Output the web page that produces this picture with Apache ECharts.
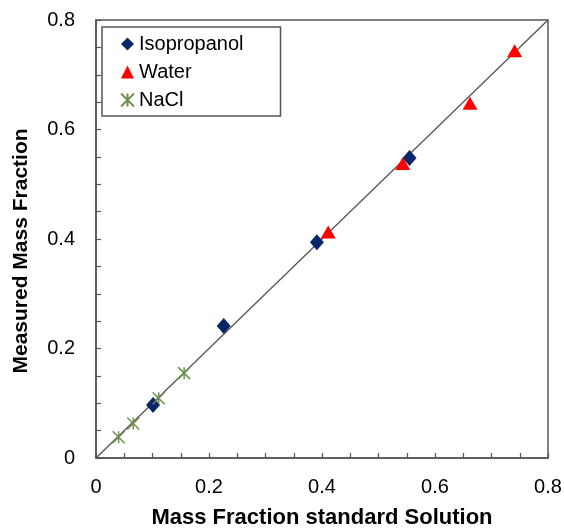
<!DOCTYPE html>
<html>
<head>
<meta charset="utf-8">
<script src="https://cdn.jsdelivr.net/npm/echarts@6/dist/echarts.min.js"></script>
<style>
  html, body { margin: 0; padding: 0; background: #ffffff; }
  #chart { width: 564px; height: 529px; }
</style>
</head>
<body>
<div id="chart"></div>
<script>
// Measured vs. standard mass fractions for three calibration sets
const isopropanolStd = [0.101, 0.226, 0.391, 0.555];
const isopropanolMeas = [0.097, 0.241, 0.394, 0.548];

const waterStd = [0.411, 0.543, 0.662, 0.741];
const waterMeas = [0.413, 0.538, 0.648, 0.744];

const naclStd = [0.040, 0.066, 0.111, 0.156];
const naclMeas = [0.038, 0.063, 0.109, 0.155];

// 1:1 reference line
const parityLine = [[0, 0], [0.8, 0.8]];

const axisTickLabels = ['0', '0.2', '0.4', '0.6', '0.8'];

const FONT = '"Liberation Sans", Arial, sans-serif';

function pairs(xs, ys) {
  return xs.map((x, i) => [x, ys[i]]);
}

const chart = echarts.init(document.getElementById('chart'), null, { renderer: 'canvas' });

const axisCommon = {
  type: 'value',
  min: 0,
  max: 0.8,
  interval: 0.2,
  axisLine: { show: true, lineStyle: { color: '#555555', width: 1.5 } },
  axisTick: { show: true, inside: true, length: 5, lineStyle: { color: '#555555', width: 1.2 } },
  minorTick: { show: true, splitNumber: 4, length: 5, lineStyle: { color: '#555555', width: 1.2 } },
  splitLine: { show: false },
  axisLabel: {
    color: '#000000',
    fontFamily: FONT,
    fontSize: 20,
    formatter: function (v) {
      const idx = Math.round(v / 0.2);
      return axisTickLabels[idx] !== undefined ? axisTickLabels[idx] : '';
    }
  },
  nameLocation: 'middle'
};

const option = {
  backgroundColor: '#ffffff',
  animation: false,
  grid: {
    left: 96,
    right: 16,
    top: 20,
    bottom: 71,
    outerBoundsMode: 'none',
    containLabel: false,
    show: true,
    borderColor: '#555555',
    borderWidth: 1.5,
    backgroundColor: 'transparent'
  },
  legend: {
    orient: 'vertical',
    left: 102,
    top: 27,
    padding: [7, 37, 6, 18],
    itemGap: 8,
    itemWidth: 13,
    itemHeight: 13,
    borderColor: '#555555',
    borderWidth: 1.5,
    backgroundColor: '#ffffff',
    textStyle: { color: '#000000', fontFamily: FONT, fontSize: 20, lineHeight: 20 },
    data: ['Isopropanol', 'Water', 'NaCl']
  },
  xAxis: Object.assign({}, axisCommon, {
    name: 'Mass Fraction standard Solution',
    nameGap: 49,
    nameTextStyle: { color: '#000000', fontFamily: FONT, fontSize: 22, fontWeight: 'bold' },
    axisLabel: Object.assign({}, axisCommon.axisLabel, { margin: 19 })
  }),
  yAxis: Object.assign({}, axisCommon, {
    name: 'Measured Mass Fraction',
    nameGap: 64,
    nameTextStyle: {
      color: '#000000', fontFamily: FONT, fontSize: 21, fontWeight: 'bold',
      padding: [0, 24, 0, 0]
    },
    axisLabel: Object.assign({}, axisCommon.axisLabel, { margin: 21 })
  }),
  series: [
    {
      name: 'parity',
      type: 'line',
      data: parityLine,
      symbol: 'none',
      lineStyle: { color: '#555555', width: 1.3 },
      z: 1,
      silent: true
    },
    {
      name: 'Isopropanol',
      type: 'scatter',
      data: pairs(isopropanolStd, isopropanolMeas),
      symbol: 'diamond',
      symbolSize: [14, 16],
      itemStyle: { color: '#08266A', opacity: 1 },
      z: 3
    },
    {
      name: 'Water',
      type: 'scatter',
      data: pairs(waterStd, waterMeas),
      symbol: 'triangle',
      symbolSize: [15, 13],
      itemStyle: { color: '#FF0000', opacity: 1 },
      z: 4
    },
    {
      name: 'NaCl',
      type: 'scatter',
      data: pairs(naclStd, naclMeas),
      symbol: 'path://M0,0L10,10M10,0L0,10M5,0L5,10',
      symbolSize: 12,
      itemStyle: { color: 'rgba(0,0,0,0)', borderColor: '#6F9150', borderWidth: 1.5, opacity: 1 },
      z: 5
    }
  ]
};

chart.setOption(option);
</script>
</body>
</html>
